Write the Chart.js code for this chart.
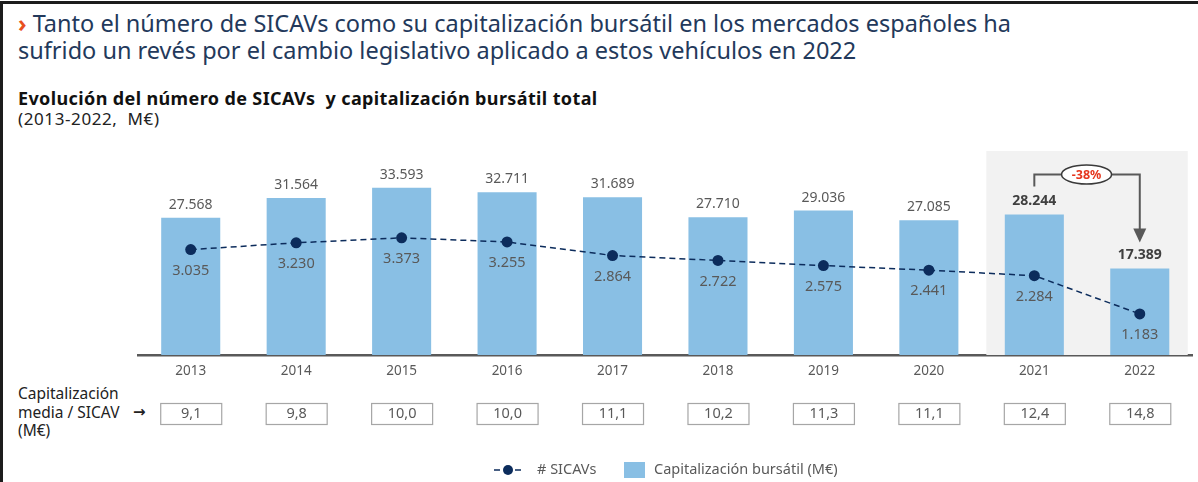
<!DOCTYPE html>
<html lang="es">
<head>
<meta charset="utf-8">
<title>SICAVs 2013-2022</title>
<script src="https://cdn.jsdelivr.net/npm/chart.js@4/dist/chart.umd.min.js"></script>
<style>
  html, body { margin: 0; padding: 0; background: #fff; }
  body { width: 1198px; height: 482px; position: relative; overflow: hidden; font-family: "Noto Sans", "Open Sans", sans-serif; }
  .frame { position: absolute; left: 0; top: 1px; width: 1198px; height: 490px; border-top: 3px solid #1c1c1c; border-left: 3px solid #1c1c1c; box-sizing: border-box; }
  .headline { position: absolute; left: 18px; top: 10px; font-size: 23.5px; line-height: 26.5px; color: #23395b; white-space: nowrap; }
  .headline .chev { color: #e8501e; font-weight: 700; }
  .subtitle { position: absolute; left: 18px; top: 86px; font-size: 18px; letter-spacing: 0.38px; font-weight: 700; color: #111; white-space: pre; }
  .units { position: absolute; left: 18px; top: 107px; font-size: 17px; letter-spacing: 0.6px; color: #222; white-space: pre; }
  .rowlabel { position: absolute; left: 18px; top: 384px; font-size: 15.5px; line-height: 18.5px; color: #222; white-space: pre; }
  .arrow { position: absolute; left: 133px; top: 403px; font-family: "DejaVu Sans", sans-serif; font-weight: 700; font-size: 15px; line-height: 18px; color: #222; }
  canvas { position: absolute; left: 0; top: 0; }
</style>
</head>
<body>
<div class="frame"></div>
<div class="headline"><span class="chev">›</span> Tanto el número de SICAVs como su capitalización bursátil en los mercados españoles ha<br>sufrido un revés por el cambio legislativo aplicado a estos vehículos en 2022</div>
<div class="subtitle">Evolución del número de SICAVs  y capitalización bursátil total</div>
<div class="units">(2013-2022,  M€)</div>
<div class="rowlabel">Capitalización
media / SICAV
(M€)</div>
<div class="arrow">→</div>
<canvas id="chart" width="1198" height="482"></canvas>
<script>
// Years on the category axis
const years = ['2013', '2014', '2015', '2016', '2017', '2018', '2019', '2020', '2021', '2022'];
// Total market capitalisation (M€)
const capitalizacion = [27568, 31564, 33593, 32711, 31689, 27710, 29036, 27085, 28244, 17389];
// Number of SICAVs
const numSicavs = [3035, 3230, 3373, 3255, 2864, 2722, 2575, 2441, 2284, 1183];
// Average capitalisation per SICAV (M€)
const mediaPorSicav = ['9,1', '9,8', '10,0', '10,0', '11,1', '10,2', '11,3', '11,1', '12,4', '14,8'];
// Highlighted years and the change between them
const highlightYears = ['2021', '2022'];
const variacion = '-38%';

const FONT = '"Noto Sans", "Open Sans", sans-serif';
const GREY = '#595959';
const BAR = '#89bfe4';
const NAVY = '#0c2c5c';

function fmt(n) {
  return String(n).replace(/\B(?=(\d{3})+(?!\d))/g, '.');
}

// Grey band behind the highlighted years
const bandPlugin = {
  id: 'band',
  beforeDatasetsDraw(chart) {
    const { ctx, chartArea, scales } = chart;
    const x = scales.x;
    const i0 = years.indexOf(highlightYears[0]);
    const i1 = years.indexOf(highlightYears[1]);
    const step = x.getPixelForValue(1) - x.getPixelForValue(0);
    const left = x.getPixelForValue(i0) - step * 0.455;
    const right = x.getPixelForValue(i1) + step * 0.455;
    ctx.save();
    ctx.fillStyle = '#f2f2f2';
    ctx.fillRect(left, chartArea.top - 5, right - left, chartArea.bottom - chartArea.top + 5);
    ctx.restore();
  }
};

// Value labels, change annotation, per-SICAV row and legend
const labelsPlugin = {
  id: 'labels',
  afterDatasetsDraw(chart) {
    const { ctx, scales } = chart;
    const x = scales.x;
    const barMeta = chart.getDatasetMeta(1);
    const lineMeta = chart.getDatasetMeta(0);
    ctx.save();
    ctx.textAlign = 'center';
    ctx.textBaseline = 'middle';

    // bar values
    barMeta.data.forEach((bar, i) => {
      const bold = highlightYears.includes(years[i]);
      ctx.font = (bold ? '700 ' : '') + '14px ' + FONT;
      ctx.fillStyle = bold ? '#404040' : GREY;
      ctx.fillText(fmt(capitalizacion[i]), bar.x, bar.y - 13);
    });

    // SICAV counts below each point
    ctx.font = '14.5px ' + FONT;
    ctx.fillStyle = GREY;
    lineMeta.data.forEach((pt, i) => {
      ctx.fillText(fmt(numSicavs[i]), pt.x, pt.y + 21);
    });

    // change annotation between the highlighted years
    const i0 = years.indexOf(highlightYears[0]);
    const i1 = years.indexOf(highlightYears[1]);
    const b0 = barMeta.data[i0];
    const b1 = barMeta.data[i1];
    const yTop = b0.y - 40;
    const ex = (b0.x + b1.x) / 2 - 0.5;
    const rx = 25, ry = 9.5;
    const tipY = b1.y - 26;
    ctx.strokeStyle = GREY;
    ctx.lineWidth = 2;
    ctx.beginPath();
    ctx.moveTo(b0.x, b0.y - 28);
    ctx.lineTo(b0.x, yTop);
    ctx.lineTo(ex - rx, yTop);
    ctx.moveTo(ex + rx, yTop);
    ctx.lineTo(b1.x, yTop);
    ctx.lineTo(b1.x, tipY - 12);
    ctx.stroke();
    ctx.fillStyle = GREY;
    ctx.beginPath();
    ctx.moveTo(b1.x - 6.5, tipY - 14);
    ctx.lineTo(b1.x + 6.5, tipY - 14);
    ctx.lineTo(b1.x, tipY);
    ctx.closePath();
    ctx.fill();
    ctx.beginPath();
    ctx.ellipse(ex, yTop, rx, ry, 0, 0, Math.PI * 2);
    ctx.fillStyle = '#fff';
    ctx.fill();
    ctx.strokeStyle = '#3a3a3a';
    ctx.lineWidth = 1.5;
    ctx.stroke();
    ctx.font = '700 12.5px ' + FONT;
    ctx.fillStyle = '#e5361d';
    ctx.fillText(variacion, ex, yTop + 0.5);

    // average capitalisation per SICAV boxes
    ctx.font = '14.5px ' + FONT;
    mediaPorSicav.forEach((v, i) => {
      const cx = x.getPixelForValue(i);
      ctx.strokeStyle = '#a6a6a6';
      ctx.lineWidth = 1.2;
      ctx.strokeRect(cx - 30, 403.5, 61, 21);
      ctx.fillStyle = GREY;
      ctx.fillText(v, cx + 0.5, 414);
    });

    // legend
    const ly = 470;
    const ds0 = chart.data.datasets[0];
    const ds1 = chart.data.datasets[1];
    ctx.strokeStyle = ds0.borderColor;
    ctx.lineWidth = 1.5;
    ctx.beginPath();
    ctx.moveTo(494, ly); ctx.lineTo(500, ly);
    ctx.moveTo(515, ly); ctx.lineTo(521, ly);
    ctx.stroke();
    ctx.fillStyle = ds0.pointBackgroundColor;
    ctx.beginPath();
    ctx.arc(508, ly, 5, 0, Math.PI * 2);
    ctx.fill();
    ctx.textAlign = 'left';
    ctx.font = '14.5px ' + FONT;
    ctx.fillStyle = GREY;
    ctx.fillText(ds0.label, 537, ly);
    ctx.fillStyle = ds1.backgroundColor;
    ctx.fillRect(624, ly - 8, 21, 16);
    ctx.fillStyle = GREY;
    ctx.fillText(ds1.label, 654, ly);
    ctx.restore();
  }
};

new Chart(document.getElementById('chart'), {
  data: {
    labels: years,
    datasets: [
      {
        type: 'line',
        label: '# SICAVs',
        data: numSicavs,
        yAxisID: 'y2',
        order: 1,
        borderColor: NAVY,
        borderWidth: 1.5,
        borderDash: [6, 4],
        pointRadius: 5.5,
        pointBackgroundColor: NAVY,
        pointBorderColor: NAVY,
        pointBorderWidth: 0,
        tension: 0
      },
      {
        type: 'bar',
        label: 'Capitalización bursátil (M€)',
        data: capitalizacion,
        yAxisID: 'y',
        order: 2,
        backgroundColor: BAR,
        borderWidth: 0,
        categoryPercentage: 1,
        barPercentage: 0.56
      }
    ]
  },
  options: {
    responsive: false,
    animation: false,
    devicePixelRatio: 1,
    layout: { padding: { left: 138, right: 5, top: 156, bottom: 0 } },
    plugins: { legend: { display: false }, tooltip: { enabled: false } },
    scales: {
      x: {
        grid: { display: false, drawTicks: false },
        border: { display: true, color: '#595959', width: 2.5 },
        ticks: { color: GREY, font: { family: FONT, size: 13.5 }, padding: 8, maxRotation: 0 },
        afterFit(scale) { scale.height = 127; }
      },
      y: { display: false, min: 0, max: 40000 },
      y2: { display: false, min: 0, max: 5730 }
    }
  },
  plugins: [bandPlugin, labelsPlugin]
});
</script>
</body>
</html>
